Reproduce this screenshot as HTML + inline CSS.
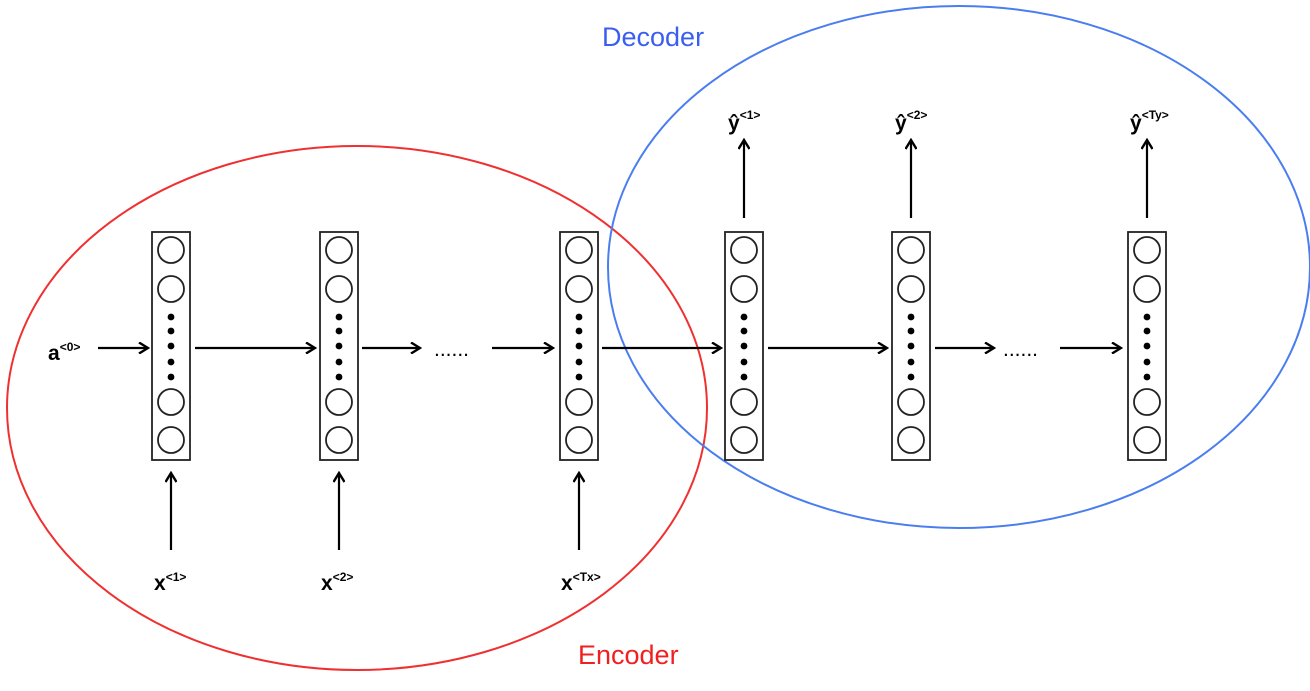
<!DOCTYPE html>
<html><head><style>body{margin:0;background:#fff}</style></head><body>
<svg width="1310" height="686" xmlns="http://www.w3.org/2000/svg" font-family="Liberation Sans, sans-serif">
<defs><marker id="a" markerWidth="12" markerHeight="12" refX="10" refY="6" orient="auto" markerUnits="userSpaceOnUse"><path d="M1,0.5 L10,6 L1,11.5" fill="none" stroke="#000" stroke-width="2.4"/></marker>
<g id="c" fill="none" stroke="#222" stroke-width="1.8">
<rect x="0" y="0" width="38" height="228"/>
<circle cx="19" cy="18" r="13"/><circle cx="19" cy="57" r="13"/>
<circle cx="19" cy="170" r="13"/><circle cx="19" cy="208" r="13"/>
<g fill="#000" stroke="none"><circle cx="19" cy="85" r="3.4"/><circle cx="19" cy="99" r="3.4"/><circle cx="19" cy="114" r="3.4"/><circle cx="19" cy="130" r="3.4"/><circle cx="19" cy="145" r="3.4"/></g>
</g></defs>
<ellipse cx="357" cy="408" rx="350" ry="262" fill="none" stroke="#f03030" stroke-width="2"/>
<ellipse cx="959" cy="267" rx="351" ry="261" fill="none" stroke="#4a7ef0" stroke-width="2"/>
<text x="602" y="46" font-size="27" fill="#3a5ff0">Decoder</text>
<text x="578" y="664" font-size="27" fill="#f02020">Encoder</text>
<use href="#c" x="152" y="232"/><use href="#c" x="320" y="232"/><use href="#c" x="560" y="232"/>
<use href="#c" x="725" y="232"/><use href="#c" x="892" y="232"/><use href="#c" x="1128" y="232"/>
<g stroke="#000" stroke-width="2.2" marker-end="url(#a)">
<line x1="98" y1="348" x2="148" y2="348"/><line x1="195" y1="348" x2="315" y2="348"/>
<line x1="362" y1="348" x2="420" y2="348"/><line x1="492" y1="348" x2="553" y2="348"/>
<line x1="602" y1="348" x2="721" y2="348"/><line x1="768" y1="348" x2="887" y2="348"/>
<line x1="935" y1="348" x2="994" y2="348"/><line x1="1060" y1="348" x2="1121" y2="348"/>
<line x1="171" y1="550" x2="171" y2="473"/><line x1="339" y1="550" x2="339" y2="473"/><line x1="579" y1="550" x2="579" y2="473"/>
<line x1="744" y1="218" x2="744" y2="140"/><line x1="911" y1="218" x2="911" y2="140"/><line x1="1147" y1="218" x2="1147" y2="140"/>
</g>
<g font-size="21" fill="#000" font-weight="bold">
<text x="434" y="356" font-weight="normal">......</text><text x="1003" y="356" font-weight="normal">......</text>
<text x="48" y="360">a<tspan font-size="12" dy="-9">&lt;0&gt;</tspan></text>
<text x="154" y="590">x<tspan font-size="12" dy="-9">&lt;1&gt;</tspan></text>
<text x="321" y="590">x<tspan font-size="12" dy="-9">&lt;2&gt;</tspan></text>
<text x="561" y="590">x<tspan font-size="12" dy="-9">&lt;Tx&gt;</tspan></text>
<text x="728" y="130">ŷ<tspan font-size="12" dy="-11">&lt;1&gt;</tspan></text>
<text x="895" y="130">ŷ<tspan font-size="12" dy="-11">&lt;2&gt;</tspan></text>
<text x="1130" y="130">ŷ<tspan font-size="12" dy="-11">&lt;Ty&gt;</tspan></text>
</g>
</svg>
</body></html>
